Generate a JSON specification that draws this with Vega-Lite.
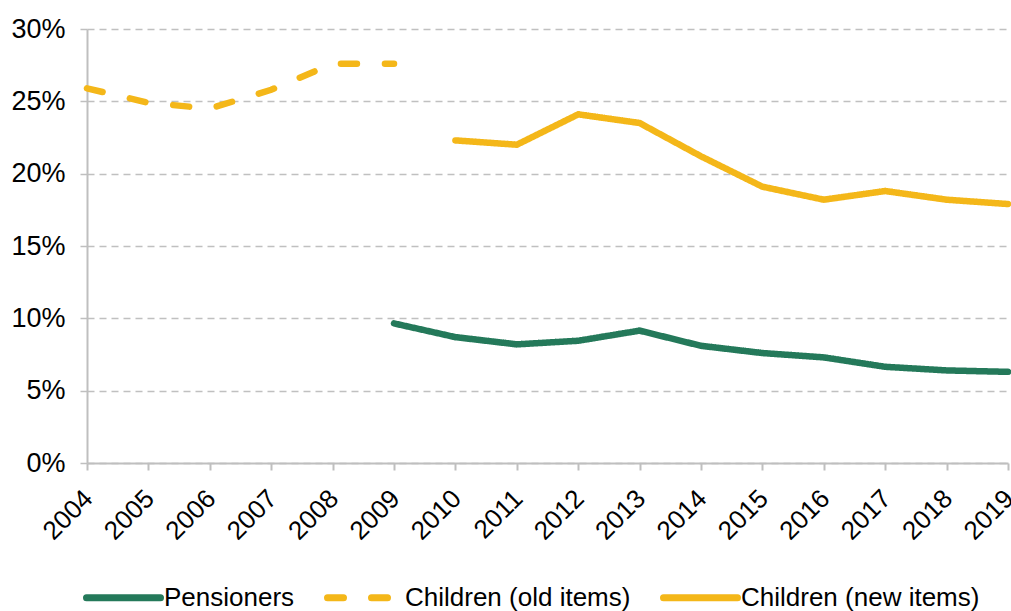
{
  "$schema": "https://vega.github.io/schema/vega-lite/v6.json",
  "autosize": "none",
  "width": 921,
  "height": 434,
  "padding": {"left": 87, "top": 29, "right": 3, "bottom": 148},
  "background": "white",
  "config": {
    "font": "Liberation Sans",
    "view": {"stroke": null},
    "axis": {"labelFont": "Liberation Sans", "labelFontSize": 26, "labelColor": "#000000"},
    "legend": {"labelFont": "Liberation Sans", "labelFontSize": 26, "labelColor": "#000000"}
  },
  "data": {
    "values": [
      {"year": 2004, "series": "Children (old items)", "value": 0.259},
      {"year": 2005, "series": "Children (old items)", "value": 0.249},
      {"year": 2006, "series": "Children (old items)", "value": 0.245},
      {"year": 2007, "series": "Children (old items)", "value": 0.258},
      {"year": 2008, "series": "Children (old items)", "value": 0.276},
      {"year": 2009, "series": "Children (old items)", "value": 0.276},
      {"year": 2010, "series": "Children (new items)", "value": 0.223},
      {"year": 2011, "series": "Children (new items)", "value": 0.220},
      {"year": 2012, "series": "Children (new items)", "value": 0.241},
      {"year": 2013, "series": "Children (new items)", "value": 0.235},
      {"year": 2014, "series": "Children (new items)", "value": 0.212},
      {"year": 2015, "series": "Children (new items)", "value": 0.191},
      {"year": 2016, "series": "Children (new items)", "value": 0.182},
      {"year": 2017, "series": "Children (new items)", "value": 0.188},
      {"year": 2018, "series": "Children (new items)", "value": 0.182},
      {"year": 2019, "series": "Children (new items)", "value": 0.179},
      {"year": 2009, "series": "Pensioners", "value": 0.0965},
      {"year": 2010, "series": "Pensioners", "value": 0.087},
      {"year": 2011, "series": "Pensioners", "value": 0.082},
      {"year": 2012, "series": "Pensioners", "value": 0.0845},
      {"year": 2013, "series": "Pensioners", "value": 0.0915},
      {"year": 2014, "series": "Pensioners", "value": 0.081},
      {"year": 2015, "series": "Pensioners", "value": 0.076},
      {"year": 2016, "series": "Pensioners", "value": 0.073},
      {"year": 2017, "series": "Pensioners", "value": 0.0665},
      {"year": 2018, "series": "Pensioners", "value": 0.064},
      {"year": 2019, "series": "Pensioners", "value": 0.063}
    ]
  },
  "mark": {"type": "line", "strokeWidth": 6.5, "strokeCap": "round", "clip": false},
  "encoding": {
    "x": {
      "field": "year",
      "type": "quantitative",
      "scale": {"domain": [2004, 2019], "nice": false, "zero": false},
      "axis": {
        "title": null,
        "values": [2004, 2005, 2006, 2007, 2008, 2009, 2010, 2011, 2012, 2013, 2014, 2015, 2016, 2017, 2018, 2019],
        "format": "d",
        "labelAngle": -45,
        "labelAlign": "right",
        "labelBaseline": "top",
        "labelPadding": 15,
        "labelOffset": -8,
        "labelOverlap": false,
        "labelBound": false,
        "labelFlush": false,
        "grid": false,
        "domainColor": "#bfbfbf",
        "domainWidth": 2,
        "tickColor": "#bfbfbf",
        "tickWidth": 2,
        "tickSize": 7
      }
    },
    "y": {
      "field": "value",
      "type": "quantitative",
      "scale": {"domain": [0, 0.3], "nice": false},
      "axis": {
        "title": null,
        "values": [0, 0.05, 0.1, 0.15, 0.2, 0.25, 0.3],
        "format": ".0%",
        "grid": true,
        "gridColor": "#c0c0c0",
        "gridWidth": 1.5,
        "gridDash": [7, 5],
        "domainColor": "#bfbfbf",
        "domainWidth": 2,
        "tickColor": "#bfbfbf",
        "tickWidth": 1.5,
        "tickSize": 7,
        "labelPadding": 15,
        "labelFontSize": 27,
        "labelFlush": false
      }
    },
    "color": {
      "field": "series",
      "type": "nominal",
      "scale": {
        "domain": ["Pensioners", "Children (old items)", "Children (new items)"],
        "range": ["#24795A", "#F4B719", "#F4B719"]
      },
      "legend": {
        "title": null,
        "orient": "none",
        "direction": "horizontal",
        "legendX": -4,
        "legendY": 528,
        "padding": 0,
        "symbolType": "stroke",
        "symbolSize": 5476,
        "symbolStrokeWidth": 7,
        "labelOffset": 0,
        "labelLimit": 500,
        "columnPadding": 18,
        "encode": {"symbols": {"update": {"strokeCap": {"value": "round"}}}}
      }
    },
    "strokeDash": {
      "field": "series",
      "type": "nominal",
      "scale": {
        "domain": ["Pensioners", "Children (old items)", "Children (new items)"],
        "range": [[1, 0], [16, 28], [1, 0]]
      },
      "legend": null
    }
  }
}
